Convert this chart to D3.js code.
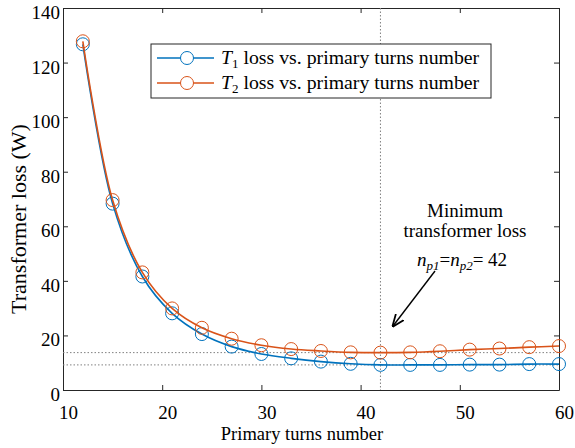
<!DOCTYPE html>
<html>
<head>
<meta charset="utf-8">
<script src="https://cdn.jsdelivr.net/npm/d3@7"></script>
<style>
  body { margin: 0; background: #fff; }
</style>
</head>
<body>
<div id="chart"></div>
<script>
// turns numbers and losses
var turns = [12, 15, 18, 21, 24, 27, 30, 33, 36, 39, 42, 45, 48, 51, 54, 57, 60];
var lossT1 = [126.7, 68.3, 41.6, 28.1, 20.5, 15.9, 13.2, 11.6, 10.4, 9.6, 9.2, 9.2, 9.2, 9.3, 9.3, 9.5, 9.5];
var lossT2 = [127.8, 69.6, 43.1, 29.9, 22.8, 18.8, 16.4, 15.0, 14.3, 13.8, 13.7, 13.8, 14.2, 14.8, 15.2, 15.7, 16.1];
var xTicks = [10, 20, 30, 40, 50, 60];
var yTicks = [0, 20, 40, 60, 80, 100, 120, 140];
var minTurns = 42, minT1 = 9.2, minT2 = 13.7;

var width = 575, height = 448;
var margin = {top: 8, right: 16, bottom: 58, left: 63};
var w = width - margin.left - margin.right,
    h = height - margin.top - margin.bottom;
var serif = "'Liberation Serif', 'Times New Roman', Times, serif";

var svg = d3.select("#chart").append("svg")
    .attr("width", width)
    .attr("height", height)
    .attr("font-family", serif);

var g = svg.append("g")
    .attr("transform", "translate(" + margin.left + "," + margin.top + ")");

var x = d3.scaleLinear().domain([10, 60]).range([0, w]);
var y = d3.scaleLinear().domain([0, 140]).range([h, 0]);

var axisColor = "#262626";

// axes with inward ticks on all sides
function styleAxis(sel) {
    sel.attr("font-family", serif).attr("font-size", 19);
    sel.select(".domain").attr("stroke", axisColor).attr("stroke-width", 1);
    sel.selectAll(".tick line").attr("stroke", axisColor);
    sel.selectAll(".tick text").attr("fill", "#000");
}

g.append("g")
    .attr("transform", "translate(0," + h + ")")
    .call(d3.axisBottom(x).tickValues(xTicks).tickSize(-5).tickSizeOuter(0).tickPadding(15.5))
    .call(styleAxis)
    .selectAll(".tick text").attr("dx", 5).attr("dy", "0.71em");

g.append("g")
    .call(d3.axisTop(x).tickValues(xTicks).tickSize(-5).tickSizeOuter(0).tickFormat(""))
    .call(styleAxis);

g.append("g")
    .call(d3.axisLeft(y).tickValues(yTicks).tickSize(-5).tickSizeOuter(0).tickPadding(3))
    .call(styleAxis)
    .selectAll(".tick text").attr("dy", 10.5);

g.append("g")
    .attr("transform", "translate(" + w + ",0)")
    .call(d3.axisRight(y).tickValues(yTicks).tickSize(-5).tickSizeOuter(0).tickFormat(""))
    .call(styleAxis);

// reference lines at the minimum
var ref = g.append("g")
    .attr("stroke", "#808080")
    .attr("stroke-width", 1)
    .attr("stroke-dasharray", "1.5,2");

ref.append("line")
    .attr("x1", x(minTurns)).attr("x2", x(minTurns))
    .attr("y1", 0).attr("y2", h);
ref.append("line")
    .attr("x1", 0).attr("x2", w)
    .attr("y1", y(minT2)).attr("y2", y(minT2));
ref.append("line")
    .attr("x1", 0).attr("x2", w)
    .attr("y1", y(minT1)).attr("y2", y(minT1));

var series = [
    {values: lossT1, color: "#0072BD"},
    {values: lossT2, color: "#D95319"}
];

var line = d3.line()
    .curve(d3.curveCatmullRom.alpha(0.5))
    .x(function(d) { return x(d[0]); })
    .y(function(d) { return y(d[1]); });

series.forEach(function(s) {
    var pts = turns.map(function(t, i) { return [t, s.values[i]]; });
    g.append("path")
        .datum(pts)
        .attr("fill", "none")
        .attr("stroke", s.color)
        .attr("stroke-width", 1.6)
        .attr("d", line);
    g.append("g").selectAll("circle")
        .data(pts)
        .enter().append("circle")
            .attr("cx", function(d) { return x(d[0]); })
            .attr("cy", function(d) { return y(d[1]); })
            .attr("r", 6.5)
            .attr("fill", "none")
            .attr("stroke", s.color)
            .attr("stroke-width", 1);
});

// axis titles
svg.append("text")
    .attr("x", 302)
    .attr("y", 440)
    .attr("text-anchor", "middle")
    .attr("font-size", 18.5)
    .text("Primary turns number");

svg.append("text")
    .attr("transform", "translate(26,219) rotate(-90)")
    .attr("text-anchor", "middle")
    .attr("font-size", 22)
    .text("Transformer loss (W)");

// legend
var legend = svg.append("g").attr("transform", "translate(151,44)");
legend.append("rect")
    .attr("width", 340).attr("height", 54)
    .attr("fill", "#fff")
    .attr("stroke", axisColor)
    .attr("stroke-width", 1);

var labels = ["1", "2"];
series.forEach(function(s, i) {
    var ly = 14 + i * 25;
    legend.append("line")
        .attr("x1", 6).attr("x2", 63)
        .attr("y1", ly).attr("y2", ly)
        .attr("stroke", s.color).attr("stroke-width", 1.6);
    legend.append("circle")
        .attr("cx", 36).attr("cy", ly).attr("r", 6.5)
        .attr("fill", "#fff").attr("stroke", s.color);
    var t = legend.append("text")
        .attr("x", 70).attr("y", ly + 6)
        .attr("font-size", 19.8);
    t.append("tspan").attr("font-style", "italic").text("T");
    t.append("tspan").attr("dy", 4).attr("font-size", 13).text(labels[i]);
    t.append("tspan").attr("dy", -4).text(" loss vs. primary turns number");
});

// annotation
var ann = svg.append("g").attr("font-size", 19).attr("text-anchor", "middle");
ann.append("text").attr("x", 465).attr("y", 217).text("Minimum");
ann.append("text").attr("x", 465).attr("y", 237).text("transformer loss");

var eq = ann.append("text").attr("x", 462).attr("y", 266);
eq.append("tspan").attr("font-style", "italic").text("n");
eq.append("tspan").attr("dy", 4).attr("font-style", "italic").attr("font-size", 13).text("p1");
eq.append("tspan").attr("dy", -4).text("=");
eq.append("tspan").attr("font-style", "italic").text("n");
eq.append("tspan").attr("dy", 4).attr("font-style", "italic").attr("font-size", 13).text("p2");
eq.append("tspan").attr("dy", -4).text("= 42");

svg.append("defs").append("marker")
    .attr("id", "arrow")
    .attr("viewBox", "0 0 10 10")
    .attr("refX", 9).attr("refY", 5)
    .attr("markerWidth", 9).attr("markerHeight", 9)
    .attr("orient", "auto")
    .append("path")
        .attr("d", "M0,1 L10,5 L0,9")
        .attr("fill", "none")
        .attr("stroke", "#000")
        .attr("stroke-width", 1.4);

svg.append("line")
    .attr("x1", 435).attr("y1", 271)
    .attr("x2", 393).attr("y2", 326)
    .attr("stroke", "#000")
    .attr("stroke-width", 1.4)
    .attr("marker-end", "url(#arrow)");
</script>
</body>
</html>
